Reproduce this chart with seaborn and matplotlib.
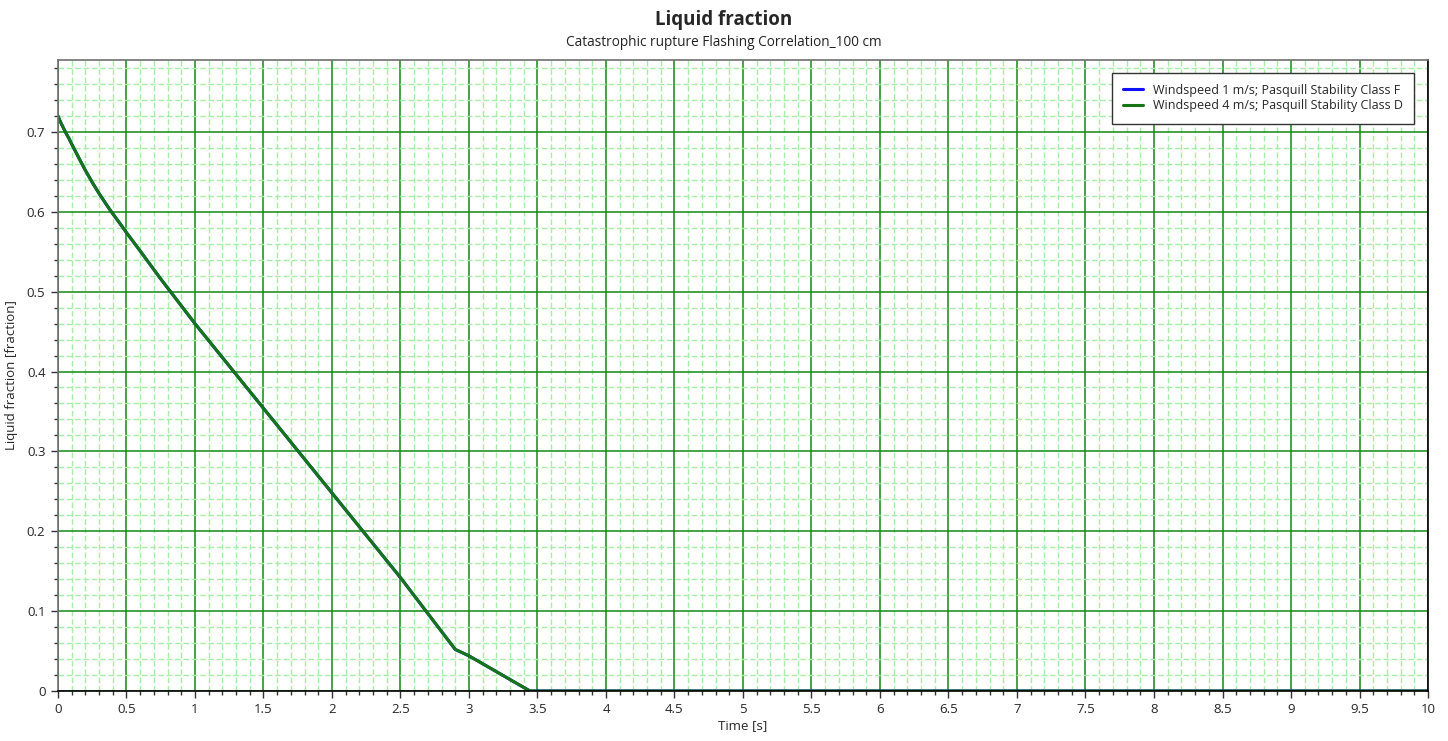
import numpy as np
import pandas as pd
import seaborn as sns
import matplotlib.pyplot as plt
from matplotlib.ticker import MultipleLocator, FixedLocator, FuncFormatter

# Data
time_s = [0.0, 0.02, 0.04, 0.06, 0.08, 0.1, 0.13, 0.16, 0.2, 0.25, 0.3, 0.35, 0.39, 0.45,
          0.5, 0.6, 0.75, 1.0, 1.5, 2.0, 2.5, 2.9, 3.0, 3.445,
          4.0, 5.0, 6.0, 7.0, 8.0, 9.0, 10.0]
frac_f = [0.72, 0.712, 0.705, 0.698, 0.692, 0.685, 0.675, 0.665, 0.652, 0.637, 0.623,
          0.610, 0.600, 0.586, 0.574, 0.551, 0.516, 0.46, 0.354, 0.248, 0.142, 0.052,
          0.044, 0.0, 0.0, 0.0, 0.0, 0.0, 0.0, 0.0, 0.0]
frac_d = frac_f  # the D-class line covers the F-class line

series_names = ["Windspeed 1 m/s; Pasquill Stability Class F",
                "Windspeed 4 m/s; Pasquill Stability Class D"]
series_colors = ["#1010ff", "#157515"]

df = pd.concat([
    pd.DataFrame({"time": time_s, "frac": frac_f, "series": series_names[0]}),
    pd.DataFrame({"time": time_s, "frac": frac_d, "series": series_names[1]}),
])

sns.set_style("white")
plt.rcParams['font.family'] = ['Open Sans', 'DejaVu Sans']

fig = plt.figure(figsize=(14.48, 7.41), dpi=100)
ax = fig.add_axes([0.04, 0.0675, 0.9462, 0.8515])

sns.lineplot(data=df, x="time", y="frac", hue="series", palette=series_colors,
             linewidth=2.2, ax=ax, legend=True)

ax.set_xlim(0, 10)
ax.set_ylim(0, 0.79)
ax.xaxis.set_major_locator(MultipleLocator(0.5))
ax.yaxis.set_major_locator(MultipleLocator(0.1))
# minor ticks, skipping the major positions
xm = np.round(np.arange(0, 10.001, 0.1), 2)
ym = np.round(np.arange(0, 0.79, 0.02), 3)
ax.xaxis.set_minor_locator(FixedLocator([v for v in xm if round(v * 2, 6) % 1 != 0]))
ax.yaxis.set_minor_locator(FixedLocator([v for v in ym if round(v * 10, 6) % 1 != 0]))
fmt = FuncFormatter(lambda v, p: f"{v:g}")
ax.xaxis.set_major_formatter(fmt)
ax.yaxis.set_major_formatter(fmt)

ax.tick_params(which="major", direction="out", length=5, width=1, color="#333333",
               labelsize=9.5, bottom=True, left=True, pad=4)
ax.tick_params(which="minor", direction="out", length=3, width=1, color="#333333",
               bottom=True, left=True)

ax.grid(which="minor", color="#a6eea6", linestyle=(0, (4, 2)), linewidth=1.0)
ax.grid(which="major", color="#138a13", linestyle="-", linewidth=1.1)
ax.set_axisbelow(True)

for s in ["left", "top"]:
    ax.spines[s].set_color("#707070")
for s in ["bottom", "right"]:
    ax.spines[s].set_color("black")
for s in ax.spines.values():
    s.set_linewidth(1.2)

ax.set_xlabel("Time [s]", fontsize=9.5, labelpad=2)
ax.set_ylabel("Liquid fraction [fraction]", fontsize=9.5, labelpad=6)

fig.text(0.5, 0.973, "Liquid fraction", ha="center", va="center",
         fontsize=13.5, fontweight="bold")
fig.text(0.5, 0.942, "Catastrophic rupture Flashing Correlation_100 cm", ha="center",
         va="center", fontsize=9.8, color="#222222")

leg = ax.legend(loc="upper right", fontsize=9, frameon=True, fancybox=False,
                edgecolor="#333333", framealpha=1, handlelength=1.6,
                borderpad=0.9, labelspacing=0.2, bbox_to_anchor=(0.9945, 0.99))
leg.get_frame().set_linewidth(1.0)

fig.savefig("out.png", dpi=100)
